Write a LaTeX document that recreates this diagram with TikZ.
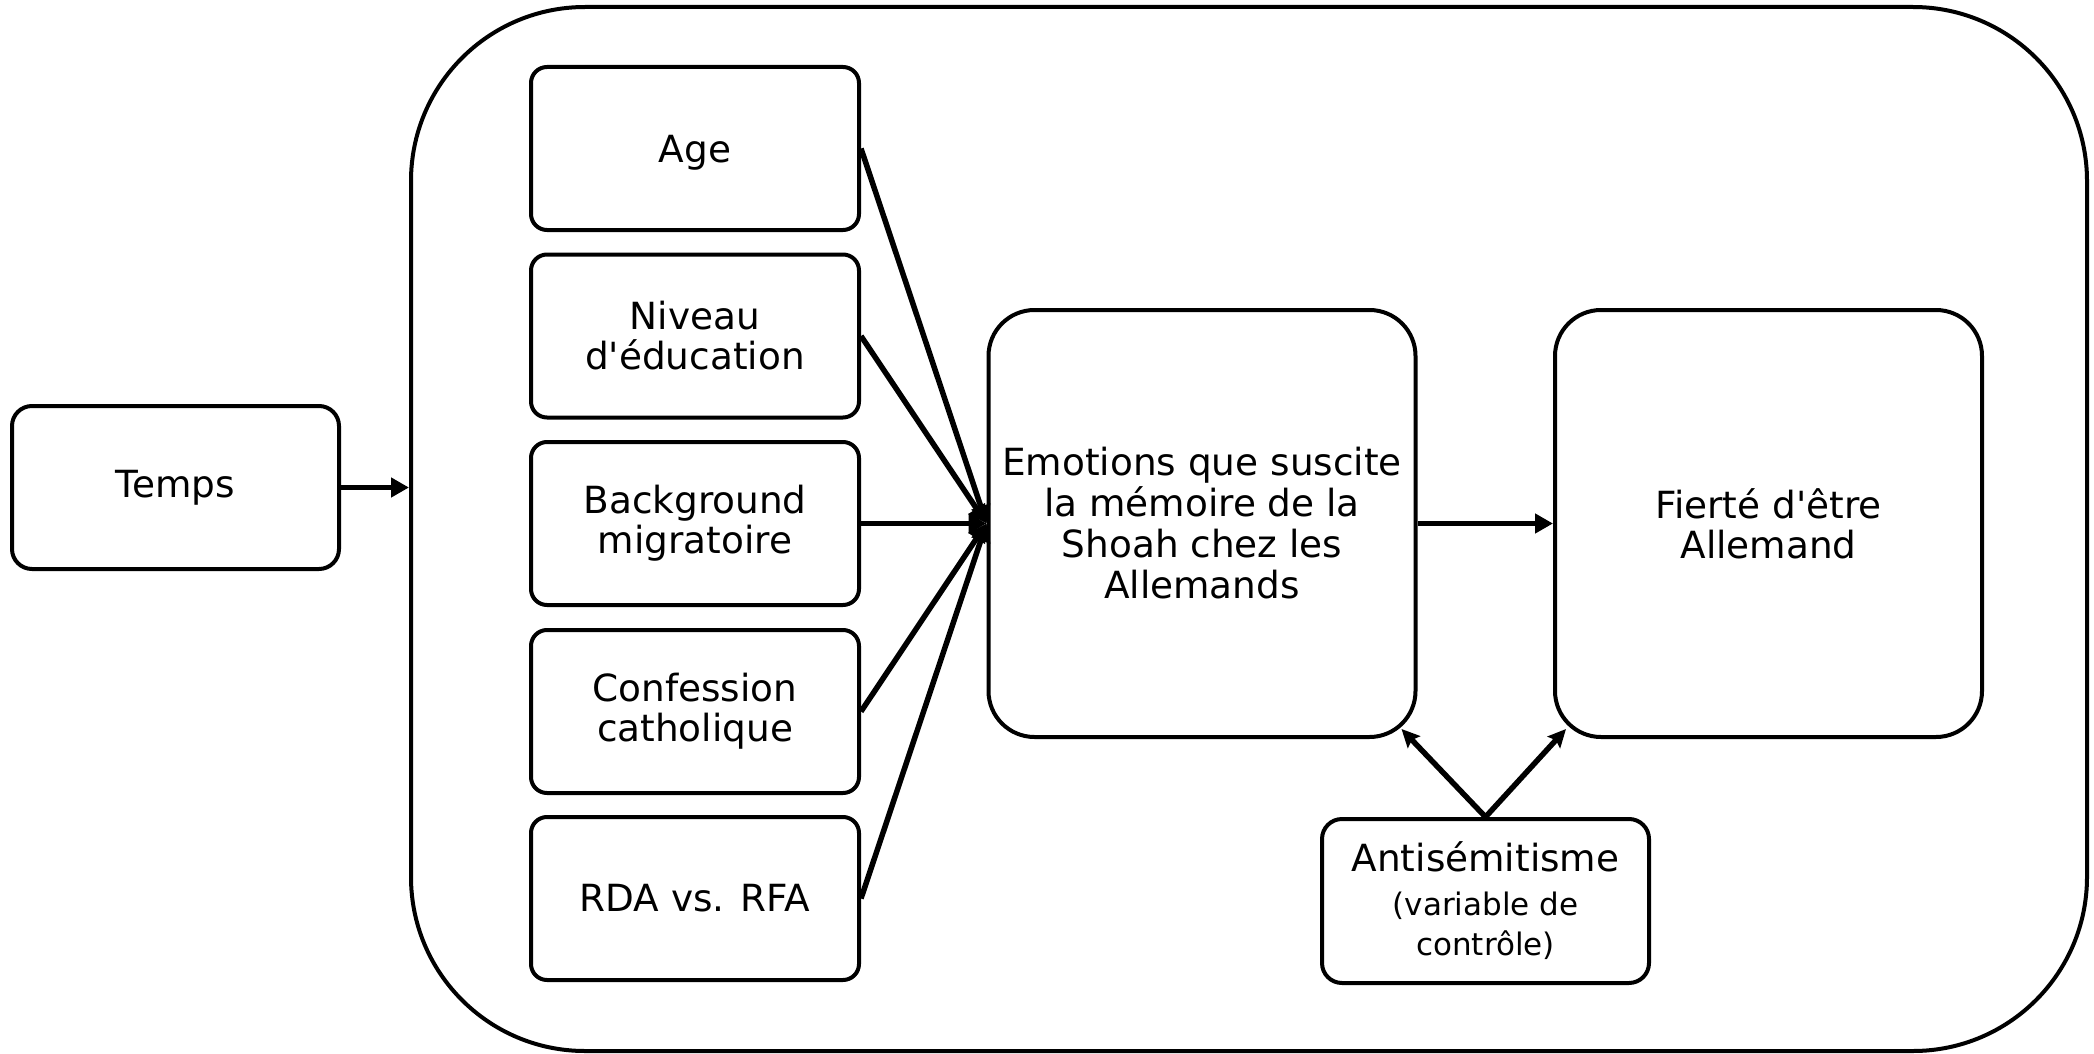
\documentclass[tikz,border=0pt]{standalone}
\usepackage{fontspec}
\setmainfont{DejaVu Sans}[Ligatures=TeXOff]
\usetikzlibrary{arrows.meta,calc}
\begin{document}
\begin{tikzpicture}[x=0.5pt,y=-0.5pt,
  box/.style={draw,line width=2pt,rounded corners=8pt,align=center,font=\fontsize{18.7}{20}\selectfont,inner sep=0pt},
  bigbox/.style={box,rounded corners=23pt,minimum width=213.5pt,minimum height=213.5pt},
  leftbox/.style={box,minimum width=164pt,minimum height=81.5pt},
  arr/.style={line width=2.75pt,-{Triangle[length=9pt,width=9.5pt]}},
  arrs/.style={line width=2.75pt,-{Stealth[length=9pt,width=8.5pt,inset=1.5pt]}}]
\useasboundingbox (0,0) rectangle (2094,1054);
\node[draw,line width=2pt,rounded corners=87pt,minimum width=838pt,minimum height=522pt] (outer) at (1249,529) {};
\node[leftbox,rounded corners=10pt,minimum width=163.5pt] (temps) at (175.5,487.5) {Temps};
\node[leftbox,text depth=0pt] (age) at (695,148.5) {Age};
\node[leftbox] (niv) at (695,336) {Niveau\\d'éducation};
\node[leftbox] (bg) at (695,523.5) {Background\\migratoire};
\node[leftbox] (conf) at (695,711.5) {Confession\\catholique};
\node[leftbox] (rda) at (695,898.5) {RDA vs. RFA};
\node[bigbox,font=\fontsize{18.7}{20.5}\selectfont] (emo) at (1202,523.5) {Emotions que suscite\\la mémoire de la\\Shoah chez les\\Allemands};
\node[bigbox] (fier) at (1768.5,523.5) {Fierté d'être\\Allemand};
\node[leftbox,rounded corners=10pt,minimum width=163.5pt,minimum height=82pt] (anti) at (1485.5,901) {Antisémitisme\\[2pt]{\fontsize{15.5}{18.5}\selectfont (variable de}\\{\fontsize{15.5}{18.5}\selectfont contrôle)}};
\draw[arr] (temps.east) -- (temps.east -| outer.west);
\foreach \n in {age,niv,bg,conf,rda} \draw[arr] (\n.east) -- (emo.west);
\draw[arr] (emo.east) -- (fier.west);
\coordinate (c1) at ($(emo.south east)+(-16,-10)$);
\coordinate (c2) at ($(fier.south west)+(13,-10)$);
\draw[arrs] (anti.north) -- (c1);
\draw[arrs] (anti.north) -- (c2);
\end{tikzpicture}
\end{document}
